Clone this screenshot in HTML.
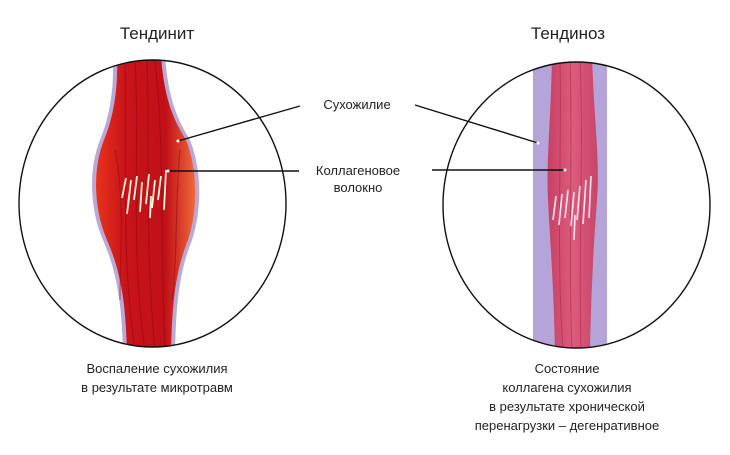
<!DOCTYPE html>
<html><head><meta charset="utf-8"><style>
body{margin:0;background:#fff;width:730px;height:450px;overflow:hidden}
text{font-family:"Liberation Sans",sans-serif;fill:#222}
</style></head><body>
<svg width="730" height="450" viewBox="0 0 730 450">
<defs>
<clipPath id="cl"><ellipse cx="152.5" cy="203.5" rx="133.5" ry="143.5"/></clipPath>
<clipPath id="cr"><ellipse cx="576.5" cy="205" rx="133.5" ry="143"/></clipPath>
<linearGradient id="gl" x1="0" x2="1"><stop offset="0" stop-color="#e8321c"/><stop offset="0.3" stop-color="#c8141a"/><stop offset="0.7" stop-color="#c01018"/><stop offset="1" stop-color="#f06a3a"/></linearGradient>
<linearGradient id="gr" x1="0" x2="1"><stop offset="0" stop-color="#c84066"/><stop offset="0.5" stop-color="#dc5c7c"/><stop offset="1" stop-color="#c8456a"/></linearGradient>
</defs>
<g clip-path="url(#cl)">
<path d="M113 55 L165 55 C168 100 178 120 190 140 C202 170 202 210 192 240 C180 270 176 300 175 355 L123 355 C122 300 116 270 103 240 C90 210 88 170 100 140 C110 115 114 90 113 55Z" fill="#b9a9d6"/>
<path d="M117 55 L161 55 C164 100 174 120 186 140 C198 170 198 210 188 240 C176 270 172 300 171 355 L127 355 C126 300 120 270 107 240 C94 210 92 170 104 140 C114 115 118 90 117 55Z" fill="url(#gl)"/>
<g stroke="#8e0a12" stroke-width="1.2" fill="none" opacity="0.5">
<path d="M125 60 C128 150 120 250 135 350"/><path d="M135 60 C140 150 130 250 145 350"/><path d="M147 60 C150 150 145 250 155 350"/><path d="M155 60 C165 150 160 250 165 350"/><path d="M115 150 C125 200 120 250 120 300"/><path d="M180 150 C175 200 178 250 172 300"/>
</g>
<g stroke="#fff2dc" stroke-width="1.8">
<path d="M122 198 L126 178"/><path d="M128 206 L131 180"/><path d="M134 200 L137 176"/><path d="M140 212 L142 182"/><path d="M146 204 L149 174"/><path d="M152 208 L155 180"/><path d="M158 200 L161 176"/><path d="M164 210 L166 170"/><path d="M127 214 L129 196"/><path d="M150 218 L151 196"/>
</g>
</g>
<g clip-path="url(#cr)">
<rect x="533" y="55" width="74" height="300" fill="#b4a4d8"/>
<path d="M552 55 L592 55 C594 120 600 160 597 200 C594 240 591 290 590 355 L555 355 C554 290 550 240 548 200 C546 160 551 120 552 55Z" fill="url(#gr)"/>
<g stroke="#a02648" stroke-width="1" fill="none" opacity="0.5">
<path d="M560 60 C562 150 556 250 563 350"/><path d="M570 60 C573 150 568 250 572 350"/><path d="M580 60 C584 150 578 250 581 350"/>
</g>
<g stroke="#fbe6ee" stroke-width="1.6">
<path d="M553 220 L556 196"/><path d="M559 225 L562 194"/><path d="M565 218 L568 190"/><path d="M571 226 L574 192"/><path d="M577 220 L580 186"/><path d="M583 224 L586 180"/><path d="M589 218 L591 176"/><path d="M574 240 L575 215"/>
</g>
</g>
<ellipse cx="152.5" cy="203.5" rx="133.5" ry="143.5" fill="none" stroke="#111" stroke-width="1.4"/>
<ellipse cx="576.5" cy="205" rx="133.5" ry="143" fill="none" stroke="#111" stroke-width="1.4"/>
<g stroke="#111" stroke-width="1.4">
<line x1="178" y1="141" x2="300" y2="106"/><line x1="415" y1="105" x2="538" y2="143"/>
<line x1="168" y1="171" x2="299" y2="171"/><line x1="432" y1="170" x2="565" y2="170"/>
</g>
<circle cx="178" cy="141" r="1.5" fill="#fff"/><circle cx="168" cy="171" r="1.5" fill="#fff"/>
<circle cx="538" cy="143" r="1.5" fill="#fff"/><circle cx="565" cy="170" r="1.5" fill="#fff"/>
<text x="157" y="39" font-size="17" text-anchor="middle">Тендинит</text>
<text x="568" y="39" font-size="17" text-anchor="middle">Тендиноз</text>
<g font-size="13" text-anchor="middle">
<text x="357" y="109">Сухожилие</text>
<text x="358" y="175">Коллагеновое</text>
<text x="358" y="192">волокно</text>
<text x="157" y="373">Воспаление сухожилия</text>
<text x="157" y="392">в результате микротравм</text>
<text x="567" y="373">Состояние</text>
<text x="567" y="392">коллагена сухожилия</text>
<text x="567" y="411">в результате хронической</text>
<text x="567" y="430">перенагрузки – дегенративное</text>
</g>
</svg>
</body></html>
